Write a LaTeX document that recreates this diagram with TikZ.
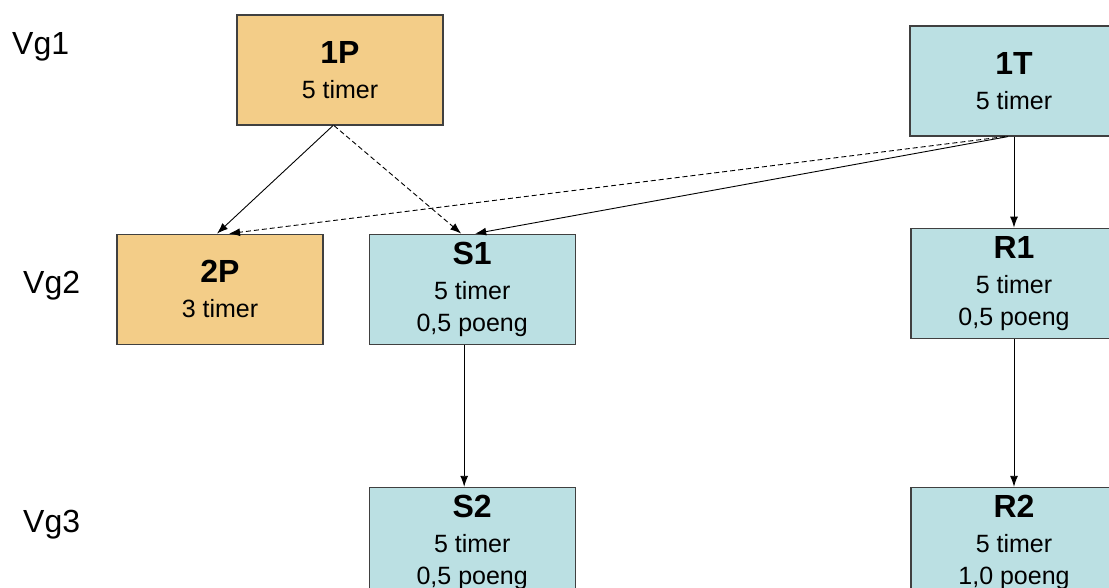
\documentclass[tikz,border=0pt]{standalone}
\usepackage{fontspec}
\setmainfont{Liberation Sans}
\usepackage{tikz}
\usetikzlibrary{shapes,positioning,arrows.meta}
\usepackage{color}

\definecolor{boxorange}{HTML}{F3CD88}
\definecolor{boxcyan}{HTML}{BBE0E3}
\definecolor{boxline}{HTML}{404040}

\newcommand{\boxhead}[1]{{\fontsize{32}{34}\selectfont\bfseries #1}}

\begin{document}
\begin{tikzpicture}[x=1pt,y=1pt,
    font=\fontsize{25}{32}\selectfont,
    pbox/.style={draw=boxline,line width=1.2pt,fill=boxorange,
        align=center,minimum width=206pt,minimum height=110pt,inner sep=0pt},
    tbox/.style={pbox,fill=boxcyan},
    level/.style={anchor=base west,inner sep=0pt,font=\fontsize{32}{34}\selectfont},
    arr/.style={line width=0.9pt,-{Latex[length=11pt,width=8pt]}},
    darr/.style={arr,dash pattern=on 5pt off 3pt}]
\clip (0,0) rectangle (1109,587);

% Level labels
\node[level] (vg1) at (12,532) {Vg1};
\node[level] (vg2) at (23,293) {Vg2};
\node[level] (vg3) at (23,55) {Vg3};

% Vg1 blocks
\node[pbox] (p1) at (340,517) {\boxhead{1P}\\[3pt] 5 timer};

\node[tbox,
    minimum width=208pt
] (t1) at (1014,506) {\boxhead{1T}\\[3pt] 5 timer};

% Vg2 blocks
\node[pbox,
    below=108pt of p1,
    xshift=-120pt
] (p2) {\boxhead{2P}\\[3pt] 3 timer};

\node[tbox,
    right=45pt of p2
] (s1) {\boxhead{S1}\\[3pt] 5 timer\\ 0,5 poeng};

\node[tbox,
    below=91pt of t1
] (r1) {\boxhead{R1}\\[3pt] 5 timer\\ 0,5 poeng};

% Vg3 blocks
\node[tbox,
    below=142pt of s1
] (s2) {\boxhead{S2}\\[3pt] 5 timer\\ 0,5 poeng};

\node[tbox,
    below=148pt of r1
] (r2) {\boxhead{R2}\\[3pt] 5 timer\\ 1,0 poeng};

% Arrows
\draw[arr] ([xshift=-7pt]p1.south) -- ([xshift=-3pt]p2.north);
\draw[darr] ([xshift=-6pt]p1.south) -- ([xshift=-11pt]s1.north);
\draw[arr] ([xshift=-6pt]t1.south) -- ([xshift=3pt]s1.north);
\draw[darr] ([xshift=-9pt]t1.south) -- ([xshift=9pt]p2.north);
\draw[arr] (t1) -- (r1);
\draw[arr] ([xshift=-8pt]s1.south) -- ([xshift=-8pt]s2.north);
\draw[arr] (r1) -- (r2);

\end{tikzpicture}
\end{document}
